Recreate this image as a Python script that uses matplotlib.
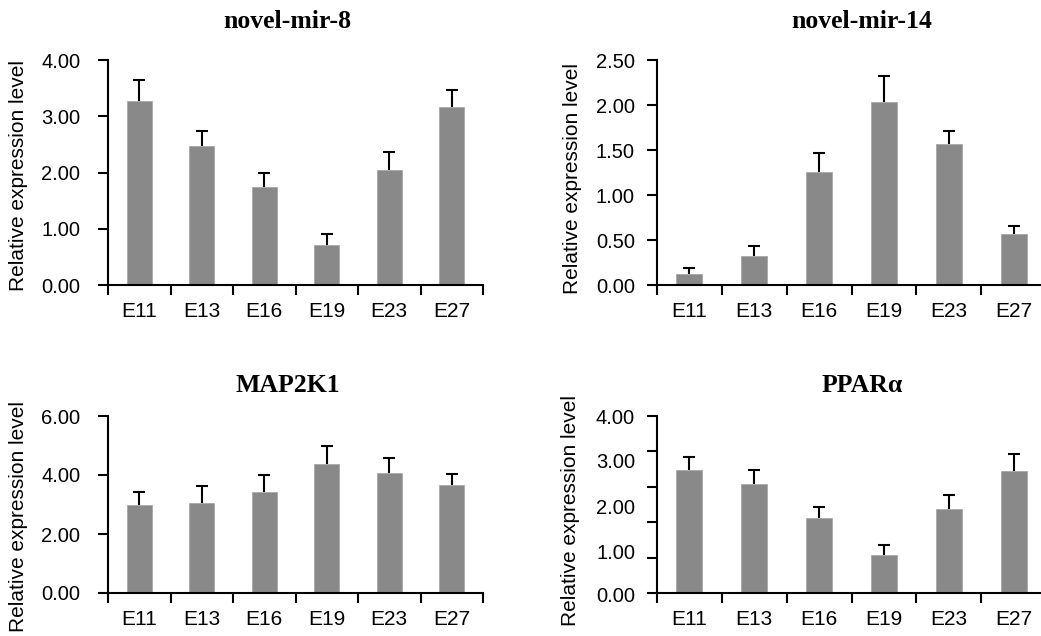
import numpy as np
import matplotlib
matplotlib.use("Agg")
import matplotlib.pyplot as plt
import matplotlib.transforms as mtransforms
from matplotlib.ticker import FixedLocator, NullFormatter, FixedFormatter

plt.rcParams["font.family"] = ["Liberation Sans", "DejaVu Sans"]

stages = ["E11", "E13", "E16", "E19", "E23", "E27"]

mir8_mean = [3.28, 2.47, 1.75, 0.72, 2.04, 3.17]
mir8_err = [0.36, 0.27, 0.24, 0.19, 0.32, 0.30]

mir14_mean = [0.12, 0.32, 1.26, 2.03, 1.57, 0.57]
mir14_err = [0.065, 0.11, 0.21, 0.29, 0.14, 0.09]

map2k1_mean = [2.99, 3.05, 3.42, 4.38, 4.07, 3.65]
map2k1_err = [0.45, 0.57, 0.57, 0.60, 0.51, 0.38]

ppara_mean = [2.78, 2.46, 1.69, 0.85, 1.89, 2.76]
ppara_err = [0.30, 0.32, 0.26, 0.23, 0.32, 0.37]

titles = ["novel-mir-8", "novel-mir-14", "MAP2K1", "PPARα"]

W, H = 1041, 636
fig = plt.figure(figsize=(W / 100, H / 100), dpi=100)


def add_ax(left, right, top, bottom):
    return fig.add_axes([left / W, 1 - bottom / H, (right - left) / W, (bottom - top) / H])


bar_color = "#898989"
tick_fs = 14.5


def draw(ax, mean, err, ymax, yticks, ypad):
    x = np.arange(len(stages))
    ax.bar(x, mean, width=0.4, color=bar_color, edgecolor="#a8a8a8", linewidth=0.6, zorder=2)
    eb = ax.errorbar(x, mean, yerr=[np.zeros(len(err)), err], fmt="none",
                     ecolor="black", elinewidth=1.5, capsize=4, capthick=1.5, zorder=3)
    # only the upper cap is drawn
    eb[1][0].set_visible(False)
    ax.set_xlim(-0.5, len(stages) - 0.5)
    ax.set_ylim(0, ymax)
    for s in ["top", "right"]:
        ax.spines[s].set_visible(False)
    for s in ["left", "bottom"]:
        ax.spines[s].set_linewidth(1.5)
    # category boundaries get tick marks, names sit between them
    ax.xaxis.set_major_locator(FixedLocator(np.arange(-0.5, len(stages), 1.0)))
    ax.xaxis.set_major_formatter(NullFormatter())
    ax.xaxis.set_minor_locator(FixedLocator(x))
    ax.xaxis.set_minor_formatter(FixedFormatter(stages))
    ax.tick_params(axis="x", which="major", direction="out", length=7, width=1.5)
    ax.tick_params(axis="x", which="minor", length=0, pad=12, labelsize=15)
    if yticks is not None:
        ax.set_yticks(yticks)
        ax.set_yticklabels([f"{v:.2f}" for v in yticks])
    ax.tick_params(axis="y", direction="out", length=7, width=1.5, pad=ypad, labelsize=tick_fs)


ax1 = add_ax(108, 483, 60, 285)
draw(ax1, mir8_mean, mir8_err, 4.0, [0, 1, 2, 3, 4], 13)

ax2 = add_ax(657, 1046, 60, 285)
draw(ax2, mir14_mean, mir14_err, 2.5, [0, 0.5, 1.0, 1.5, 2.0, 2.5], 9)

ax3 = add_ax(108, 483, 416, 593)
draw(ax3, map2k1_mean, map2k1_err, 6.0, [0, 2, 4, 6], 13)

ax4 = add_ax(657, 1046, 416, 593)
draw(ax4, ppara_mean, ppara_err, 4.0, None, 9)
# this panel has tick marks and labels that do not line up
ax4.yaxis.set_major_locator(FixedLocator(np.linspace(0, 4, 6)))
ax4.yaxis.set_major_formatter(NullFormatter())
ppara_label_pos = [-0.08, 0.89, 1.90, 2.95, 3.95]
ppara_labels = ["0.00", "1.00", "2.00", "3.00", "4.00"]
trans = mtransforms.blended_transform_factory(ax4.transAxes, ax4.transData)
for pos, lab in zip(ppara_label_pos, ppara_labels):
    ax4.text(-22 / 389, pos, lab, transform=trans, ha="right", va="center",
             fontsize=tick_fs, clip_on=False)

title_pos = [(287, 22), (862, 22), (288, 386), (862, 386)]
for t, (tx, ty) in zip(titles, title_pos):
    fig.text(tx / W, 1 - ty / H, t, ha="center", va="center", fontsize=18.5,
             fontweight="bold", family=["Liberation Serif", "DejaVu Serif"])

ylabel_pos = [(19, 176), (573, 178), (19, 517), (571, 510)]
for lx, ly in ylabel_pos:
    fig.text(lx / W, 1 - ly / H, "Relative expression level", rotation=90,
             ha="center", va="center", fontsize=15)

fig.savefig("out.png", dpi=100)
